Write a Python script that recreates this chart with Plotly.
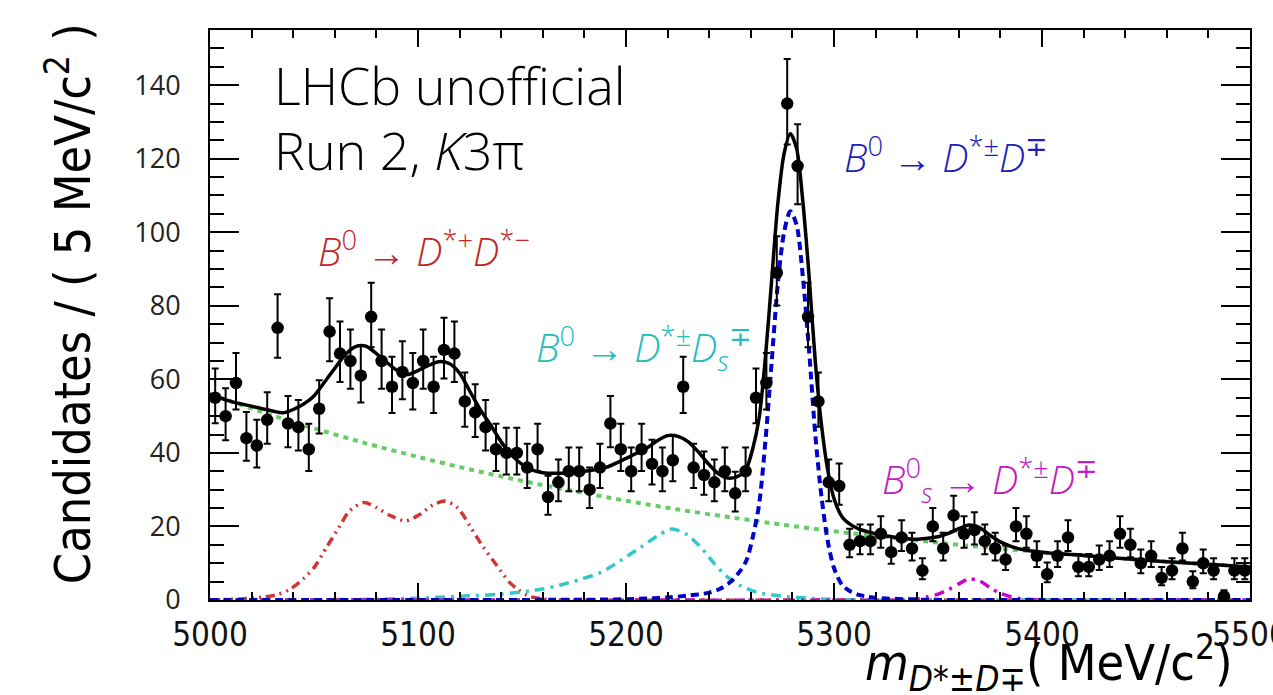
import numpy as np
import plotly.graph_objects as go

# ---------------- data ----------------
bin_centers = [5002.5 + 5 * i for i in range(100)]
counts = [55, 50, 59, 44, 42, 49, 74, 48, 47, 41,
          52, 73, 67, 65, 61, 77, 65, 58, 62, 59,
          65, 58, 68, 67, 54, 51, 47, 41, 40, 40,
          36, 41, 28, 32, 35, 35, 30, 36, 48, 41,
          35, 41, 37, 35, 38, 58, 36, 34, 32, 35,
          29, 35, 55, 59, 89, 135, 118, 77, 54, 32,
          31, 15, 16, 16, 18, 13, 17, 14, 8, 20,
          14, 23, 18, 19, 16, 14, 11, 20, 18, 12,
          7, 12, 17, 9, 9, 11, 12, 18, 15, 10,
          12, 6, 8, 14, 5, 10, 8, 1, 8, 8]

bkg_m = [5000, 5025, 5050, 5075, 5100, 5125, 5150, 5175, 5200, 5225, 5250,
         5275, 5300, 5325, 5350, 5375, 5400, 5425, 5450, 5475, 5500]
bkg_y = [56.0, 51.1, 46.7, 42.6, 38.9, 35.5, 32.4, 29.6, 27.0, 24.6, 22.5,
         20.5, 18.7, 17.1, 15.6, 14.2, 13.0, 11.9, 10.8, 9.9, 9.0]

dd_m = [5000, 5015, 5025, 5032, 5038, 5043, 5050, 5056, 5062, 5067, 5074, 5080,
        5087, 5094, 5101, 5107, 5113, 5119, 5125, 5131, 5138, 5144, 5148, 5153,
        5160, 5170, 5300, 5500]
dd_y = [0, 0.3, 0.8, 1.4, 2.8, 4.8, 8.8, 14.3, 19.7, 24.2, 26.5, 25.1,
        22.9, 21.5, 23.3, 25.8, 26.9, 25.1, 20.1, 14.7, 9.3, 4.8, 2.9, 1.1,
        0.3, 0, 0, 0]

dds_m = [5000, 5080, 5100, 5120, 5140, 5159, 5168, 5178, 5188, 5197, 5207, 5215,
         5222, 5229, 5236, 5242, 5248, 5255, 5263, 5274, 5290, 5310, 5400, 5500]
dds_y = [0, 0.2, 0.5, 1.0, 1.6, 2.9, 4.0, 5.6, 7.5, 10.6, 14.3, 17.4,
         19.3, 17.9, 14.3, 10.2, 6.6, 3.9, 2.1, 1.1, 0.4, 0, 0, 0]

sig_m = [5000, 5100, 5200, 5220, 5230, 5240, 5245, 5250, 5255, 5258, 5261, 5264,
         5267, 5270, 5273, 5276, 5279, 5282, 5285, 5288, 5291, 5294, 5297, 5300,
         5304, 5308, 5312, 5316, 5320, 5340, 5400, 5500]
sig_y = [0, 0, 0.2, 0.7, 1.2, 2.0, 3.0, 4.8, 8.0, 10.9, 17.2, 26.0,
         43.0, 64.5, 86.0, 100.0, 105.7, 102.0, 88.0, 68.0, 45.0, 28.0, 16.0, 8.7,
         4.0, 2.3, 1.4, 0.9, 0.6, 0.1, 0, 0]

bs_m = [5000, 5200, 5330, 5340, 5345, 5350, 5355, 5360, 5365, 5370, 5375, 5380,
        5385, 5390, 5400, 5450, 5500]
bs_y = [0, 0, 0, 0.3, 0.9, 1.6, 2.8, 4.4, 5.7, 5.2, 3.4, 1.8,
        0.9, 0.3, 0, 0, 0]

tot_m = [5000, 5010, 5020, 5030, 5035, 5040, 5045, 5050, 5055, 5060, 5065, 5070,
         5075, 5080, 5085, 5090, 5095, 5100, 5105, 5110, 5115, 5120, 5125, 5130,
         5135, 5140, 5145, 5150, 5155, 5160, 5170, 5180, 5190, 5200, 5210, 5215,
         5220, 5225, 5230, 5235, 5240, 5245, 5250, 5255, 5258, 5261, 5264, 5267,
         5270, 5273, 5276, 5279, 5282, 5285, 5288, 5291, 5294, 5297, 5300, 5304,
         5308, 5312, 5316, 5320, 5330, 5340, 5345, 5350, 5355, 5360, 5365, 5370,
         5375, 5380, 5385, 5390, 5400, 5420, 5440, 5460, 5480, 5500]
tot_y = [56.0, 54.0, 52.7, 51.4, 50.9, 51.8, 53.3, 55.5, 59.2, 63.0, 66.7, 68.9,
         69.0, 67.0, 64.6, 62.4, 61.3, 62.4, 63.8, 64.8, 64.3, 61.7, 56.7, 51.7,
         47.5, 43.0, 39.4, 36.9, 35.3, 34.6, 34.5, 35.0, 36.0, 38.5, 41.3, 43.3,
         44.7, 44.5, 43.0, 40.1, 36.8, 34.1, 33.1, 34.0, 35.9, 41.3, 49.5, 65.8,
         86.8, 107.8, 121.4, 126.8, 122.8, 108.5, 88.2, 64.9, 47.5, 35.3, 27.6, 22.5,
         20.5, 19.3, 18.6, 18.0, 17.0, 16.5, 16.8, 17.2, 18.1, 19.4, 20.4, 19.7,
         17.6, 15.8, 14.6, 13.8, 13.0, 12.1, 11.2, 10.4, 9.7, 9.0]

# ---------------- figure ----------------
cnt = np.array(counts, dtype=float)
err_up = np.sqrt(cnt + 0.25) + 0.5
err_dn = np.sqrt(cnt + 0.25) - 0.5

fig = go.Figure()

def comp(xs, ys, color, dash, width=3.5):
    fig.add_trace(go.Scatter(x=xs, y=ys, mode="lines",
                             line=dict(color=color, dash=dash, width=width, shape="spline", smoothing=0.8),
                             hoverinfo="skip", showlegend=False))

comp(bkg_m, bkg_y, "#66cc66", "5px,5px", 4)
comp(dd_m, dd_y, "#d03535", "9px,5px,2px,5px,2px,5px", 3.5)
comp(dds_m, dds_y, "#33c8c8", "10px,6px,3px,6px", 3.5)
comp(bs_m, bs_y, "#cc00cc", "10px,6px,3px,6px", 3.5)
comp(sig_m, sig_y, "#0000cc", "8px,5px", 4)
comp(tot_m, tot_y, "black", "solid", 3.5)

fig.add_trace(go.Scatter(
    x=bin_centers, y=counts, mode="markers",
    marker=dict(color="black", size=12.5, symbol="circle"),
    error_y=dict(type="data", symmetric=False, array=err_up, arrayminus=err_dn,
                 color="black", thickness=2, width=3.5),
    showlegend=False))

COND = "Noto Sans Condensed Light, Noto Sans Condensed, Liberation Sans Narrow, DejaVu Sans Condensed, Open Sans"
tickfont_y = dict(family="Open Sans", size=27, color="#222")
tickfont_x = dict(family=COND, size=33, color="#111", weight=300)

fig.update_layout(
    width=1273, height=695,
    margin=dict(l=210, r=23, t=30, b=95, autoexpand=False),
    paper_bgcolor="white", plot_bgcolor="white",
    showlegend=False,
    xaxis=dict(range=[5000, 5500], tick0=5000, dtick=100, showgrid=False, zeroline=False,
               showline=True, linecolor="black", linewidth=2, mirror="allticks",
               ticks="inside", ticklen=17, tickwidth=2, tickcolor="black",
               minor=dict(ticks="inside", dtick=20, ticklen=8, tickwidth=2, tickcolor="black", showgrid=False),
               tickfont=tickfont_x, ticklabelstandoff=4, ticklabeloverflow="allow",
               automargin=False),
    yaxis=dict(range=[0, 155], tick0=0, dtick=20, showgrid=False, zeroline=False,
               showline=True, linecolor="black", linewidth=2, mirror="allticks",
               ticks="inside", ticklen=29, tickwidth=2, tickcolor="black",
               minor=dict(ticks="inside", dtick=5, ticklen=14, tickwidth=2, tickcolor="black", showgrid=False),
               tickfont=tickfont_y, ticklabelstandoff=22, automargin=False),
)

title_font = dict(family=COND, size=50, color="black", weight=300)
fig.add_annotation(xref="paper", yref="paper", x=-0.135, y=0.52, textangle=-90,
                   text="Candidates / ( 5 MeV/c<sup>2</sup> )", showarrow=False,
                   font=title_font, xanchor="center", yanchor="middle")
fig.add_annotation(xref="paper", yref="paper", x=0.985, y=-0.11,
                   text="<i>m</i><sub><i>D</i>*±<i>D</i>∓</sub>( MeV/c<sup>2</sup>)", showarrow=False,
                   font=title_font, xanchor="right", yanchor="middle")

lab_font = dict(family="Open Sans", size=52, color="black", weight=300)
fig.add_annotation(x=5029.8, y=140.2, text="LHCb unofficial", showarrow=False,
                   font=lab_font, xanchor="left", yanchor="middle")
fig.add_annotation(x=5029.8, y=122.5, text="Run 2, <i>K</i>3π", showarrow=False,
                   font=lab_font, xanchor="left", yanchor="middle")

def dlabel(x, y, text, color):
    fig.add_annotation(x=x, y=y, text=text, showarrow=False, xanchor="left", yanchor="middle",
                       font=dict(family="Open Sans", size=39, color=color, weight=300))

ARR = " → "
dlabel(5051, 95.5, "<i>B</i><sup>0</sup>" + ARR + "<i>D</i><sup>*+</sup><i>D</i><sup>*−</sup>", "#c02828")
dlabel(5156, 68.5, "<i>B</i><sup>0</sup>" + ARR + "<i>D</i><sup>*±</sup><i>D</i><sub><i>s</i></sub><sup>∓</sup>", "#22bcbc")
dlabel(5304, 121.0, "<i>B</i><sup>0</sup>" + ARR + "<i>D</i><sup>*±</sup><i>D</i><sup>∓</sup>", "#1c1cc0")
dlabel(5322, 32.5, "<i>B</i><sup>0</sup><sub><i>s</i></sub>" + ARR + "<i>D</i><sup>*±</sup><i>D</i><sup>∓</sup>", "#c020c0")

fig.write_html("out.html")
